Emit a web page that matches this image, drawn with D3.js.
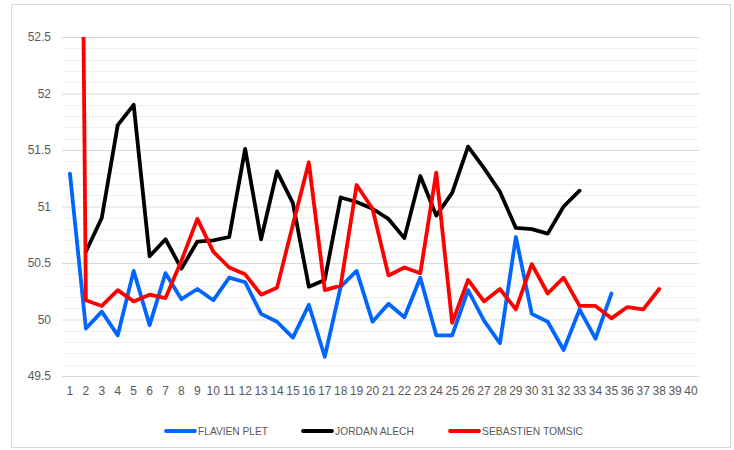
<!DOCTYPE html>
<html>
<head>
<meta charset="utf-8">
<script src="https://cdn.jsdelivr.net/npm/d3@7"></script>
<style>
  html, body { margin: 0; padding: 0; background: #fff; }
  svg { display: block; }
  text { font-family: "Liberation Sans", Arial, sans-serif; fill: #595959; }
</style>
</head>
<body>
<svg id="chart" width="734" height="450"></svg>
<script>
// ---- DATA ----
const categories = d3.range(1, 41).map(String);
const yTicks = [49.5, 50, 50.5, 51, 51.5, 52, 52.5];
const seriesNames = ["FLAVIEN PLET", "JORDAN ALECH", "SEBASTIEN TOMSIC"];
const seriesColors = ["#0066ff", "#000000", "#ff0000"];

const flavienPlet = [51.29, 49.92, 50.07, 49.86, 50.43, 49.95, 50.41, 50.18, 50.27, 50.17,
  50.37, 50.33, 50.05, 49.98, 49.84, 50.13, 49.67, 50.29, 50.43, 49.98,
  50.14, 50.02, 50.37, 49.86, 49.86, 50.26, 49.99, 49.79, 50.73, 50.05,
  49.98, 49.73, 50.09, 49.83, 50.23];
const jordanAlech = [null, 50.60, 50.90, 51.72, 51.90, 50.56, 50.71, 50.45, 50.69, 50.70,
  50.73, 51.51, 50.71, 51.31, 51.03, 50.29, 50.35, 51.08, 51.04, 50.98,
  50.89, 50.72, 51.27, 50.92, 51.12, 51.53, 51.34, 51.13, 50.81, 50.80,
  50.76, 51.00, 51.14];
const sebastienTomsic = [66, 50.17, 50.12, 50.26, 50.16, 50.22, 50.19, 50.52, 50.89, 50.60,
  50.46, 50.40, 50.22, 50.28, 50.84, 51.39, 50.26, 50.30, 51.19, 50.98,
  50.39, 50.46, 50.41, 51.30, 49.97, 50.35, 50.16, 50.27, 50.09, 50.49,
  50.23, 50.37, 50.12, 50.12, 50.01, 50.11, 50.09, 50.27];
const seriesValues = [flavienPlet, jordanAlech, sebastienTomsic];

// ---- LAYOUT ----
const svg = d3.select("#chart");
const plot = { left: 62, right: 699, top: 37, bottom: 376 };

svg.append("rect")
  .attr("x", 11.5).attr("y", 4.5).attr("width", 719).attr("height", 443)
  .attr("fill", "#fff").attr("stroke", "#d9d9d9").attr("stroke-width", 1);

const x = d3.scaleBand().domain(categories).range([plot.left, plot.right]);
const y = d3.scaleLinear().domain([49.5, 52.5]).range([plot.bottom, plot.top]);

// minor gridlines
const minor = d3.range(49.6, 52.5, 0.1).map(v => +v.toFixed(1)).filter(v => !yTicks.includes(v));
svg.append("g").selectAll("line").data(minor).join("line")
  .attr("x1", plot.left).attr("x2", plot.right)
  .attr("y1", d => Math.round(y(d)) + 0.5).attr("y2", d => Math.round(y(d)) + 0.5)
  .attr("stroke", "#f0f0f0").attr("stroke-width", 1);

// y axis with major gridlines
const yAxis = d3.axisLeft(y).tickValues(yTicks).tickSize(-(plot.right - plot.left)).tickPadding(11)
  .tickFormat(d => String(d));
svg.append("g").attr("transform", `translate(${plot.left},0)`).call(yAxis)
  .call(g => g.select(".domain").remove())
  .call(g => g.selectAll("line").attr("stroke", "#d9d9d9"))
  .call(g => g.selectAll("text").attr("font-size", 12).style("fill", "#595959")
    .style("font-family", '"Liberation Sans", Arial, sans-serif'));

// x axis
const xAxis = d3.axisBottom(x).tickSize(0).tickPadding(10);
svg.append("g").attr("transform", `translate(0,${plot.bottom})`).call(xAxis)
  .call(g => g.select(".domain").remove())
  .call(g => g.selectAll("text").attr("font-size", 12).style("fill", "#595959")
    .style("font-family", '"Liberation Sans", Arial, sans-serif'));

// clip
svg.append("clipPath").attr("id", "plotclip").append("rect")
  .attr("x", plot.left - 5).attr("y", plot.top).attr("width", plot.right - plot.left + 10)
  .attr("height", plot.bottom - plot.top + 5);

const line = d3.line()
  .defined(d => d.v !== null)
  .x(d => x(d.c) + x.bandwidth() / 2)
  .y(d => y(d.v));

const lines = svg.append("g").attr("clip-path", "url(#plotclip)");
seriesValues.forEach((vals, i) => {
  const pts = vals.map((v, j) => ({ c: categories[j], v }));
  lines.append("path").datum(pts)
    .attr("d", line)
    .attr("fill", "none")
    .attr("stroke", seriesColors[i])
    .attr("stroke-width", 3.8)
    .attr("stroke-linejoin", "round")
    .attr("stroke-linecap", "round");
});

// legend
const legendX = [166, 303, 450];
const legendW = [70, 79, 101];
const legend = svg.append("g");
seriesNames.forEach((name, i) => {
  legend.append("line")
    .attr("x1", legendX[i]).attr("x2", legendX[i] + 29)
    .attr("y1", 431).attr("y2", 431)
    .attr("stroke", seriesColors[i]).attr("stroke-width", 3.8).attr("stroke-linecap", "round");
  legend.append("text")
    .attr("x", legendX[i] + 32).attr("y", 435)
    .attr("font-size", 11.5)
    .attr("textLength", legendW[i])
    .attr("lengthAdjust", "spacingAndGlyphs")
    .text(name);
});
</script>
</body>
</html>
